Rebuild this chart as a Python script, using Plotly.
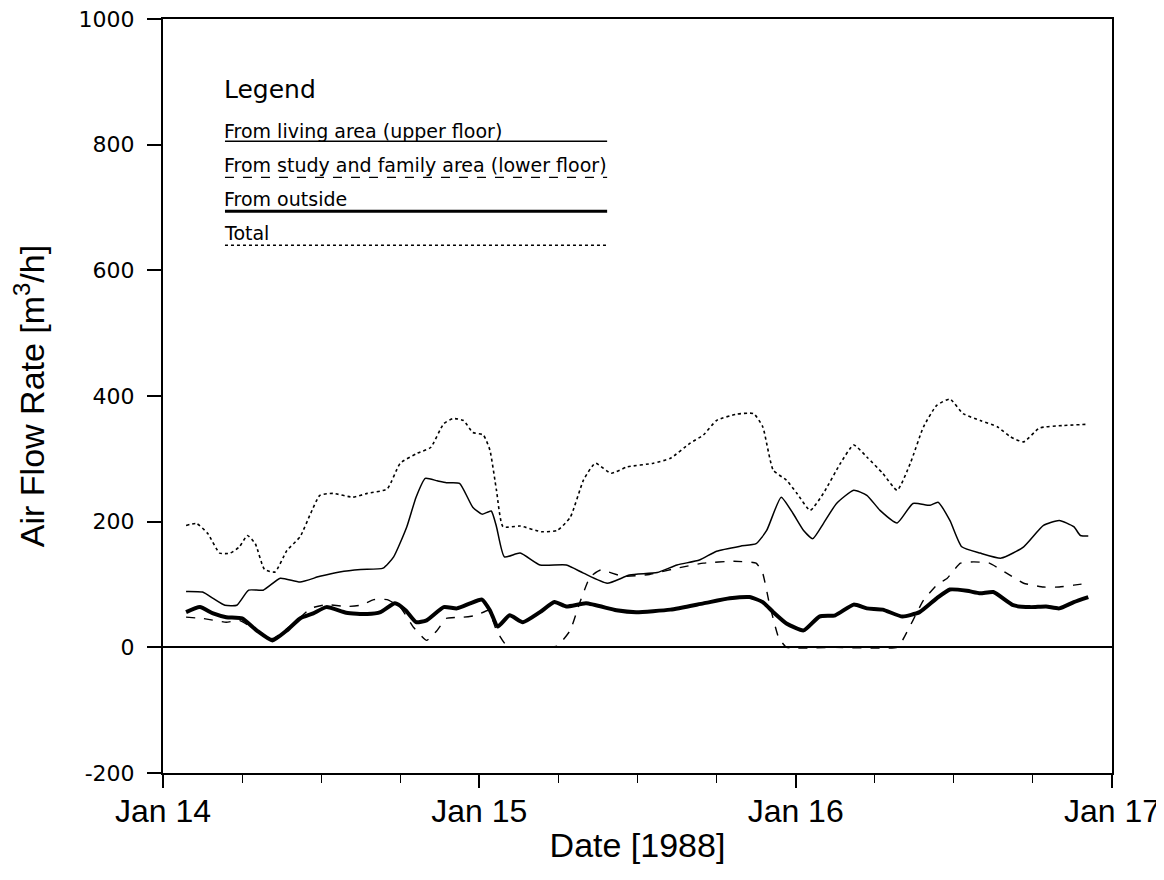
import plotly.graph_objects as go

# ---- data (hours since Jan 14, 1988 00:00) ----
total_h = [1.75,2.55,3.4,4.3,5.1,5.8,6.4,7,7.7,8.5,9.4,10.4,11.2,11.9,12.9,14.4,15.5,17,18,19.3,20.3,21.3,22,22.8,23.5,24.3,24.8,25.3,25.8,27.1,28.7,29.9,30.9,31.9,32.8,34,35.2,37.2,38.5,40,41,42,43.5,44.8,45.5,46.3,47.3,48.1,49.1,50.1,51.4,52.4,53.4,54.6,55.7,56.7,57.7,58.7,59.7,60.7,62,63.3,64.3,65.3,66.5,68.3,70.2]
total_v = [194,197,181,150,150,160,178,165,124,120,154,176,213,242,245,239,245,252,293,309,318,356,364,361,342,338,314,250,192,193,184,186,207,266,293,277,287,293,301,325,338,361,371,372,351,282,266,245,218,245,293,322,303,277,250,293,351,385,395,372,361,351,335,327,349,353,355]

living_h = [1.75,3,3.8,4.7,5.6,6.5,7.6,8.9,10.4,11.9,13.4,15,16.7,17.5,18.5,19.2,19.9,20.8,21.5,22.5,23.5,24.2,24.9,25.3,25.9,27.1,28.6,30.6,31.9,33.7,35.4,37.5,39,40.7,42,43.8,45,45.8,46.9,47.8,48.6,49.3,50.1,51.1,52.4,53.4,54.4,55.7,56.9,58.2,58.8,59.7,60.6,62,63.6,65.3,66.8,68,69.1,69.6,70.2]
living_v = [89,88,78,67,67,91,91,110,104,113,120,124,126,144,192,239,269,265,262,261,223,212,217,192,144,150,131,131,118,102,115,119,131,139,153,161,165,186,239,213,186,173,197,229,250,242,218,198,229,226,231,202,160,150,142,160,194,202,192,178,177]

outside_h = [1.75,2.8,3.8,4.8,6,7.1,8.3,9.4,10.4,11.4,12.4,13.9,15.5,16.5,17.6,18.4,19.2,20,21.3,22.3,23.3,24.2,24.8,25.4,26.3,27.3,28.6,29.7,30.6,32.1,34.4,35.9,38.5,41,43,44.5,45.5,46.3,47.3,48.6,49.8,51,52.4,53.4,54.6,56.1,57.4,58.7,59.7,61,62,63,64.5,65.8,67,68,69.1,70.2]
outside_v = [56,64,54,48,46,27,11,27,46,54,64,55,53,56,70,59,40,43,64,62,70,76,59,33,51,40,56,72,65,70,59,56,60,70,78,80,72,56,38,27,49,51,68,62,60,49,56,78,92,90,86,88,67,64,65,62,72,80]

study_h = [1.75,3,4.8,5.8,7.1,8.3,9.9,11.2,12.4,13.9,15,16,17,18,19,20,20.8,21.5,22.8,23.8,24.7,25.3,26.1,27.8,29.9,30.9,31.6,32.4,33.2,34.9,36.9,39,41,43.3,45,45.5,46,46.7,47.3,51,55.7,56.1,56.9,57.7,58.7,59.5,60.5,61.5,62.7,64,65.3,66.8,68,69.1,70.2]
study_v = [48,46,40,43,27,14,38,62,68,65,67,76,76,64,32,11,27,46,48,51,59,27,2,0,2,27,70,112,123,113,116,126,134,137,134,118,70,16,0,0,0,11,43,75,99,110,134,136,134,118,102,96,96,99,102]

day_ticks = [0, 24, 48, 72]
day_labels = ["Jan 14", "Jan 15", "Jan 16", "Jan 17"]
y_ticks = [-200, 0, 200, 400, 600, 800, 1000]
y_labels = ["-200", "0", "200", "400", "600", "800", "1000"]

legend_names = ["From living area (upper floor)",
                "From study and family area (lower floor)",
                "From outside",
                "Total"]

WIDE = "DejaVu Sans"
SANS = "Liberation Sans"

fig = go.Figure()
fig.add_trace(go.Scatter(x=total_h, y=total_v, mode="lines", name=legend_names[3],
                         line=dict(color="black", width=1.6, dash="dot", shape="spline", smoothing=0.5)))
fig.add_trace(go.Scatter(x=living_h, y=living_v, mode="lines", name=legend_names[0],
                         line=dict(color="black", width=1.5, shape="spline", smoothing=0.5)))
fig.add_trace(go.Scatter(x=study_h, y=study_v, mode="lines", name=legend_names[1],
                         line=dict(color="black", width=1.4, dash="dash", shape="spline", smoothing=0.4)))
fig.add_trace(go.Scatter(x=outside_h, y=outside_v, mode="lines", name=legend_names[2],
                         line=dict(color="black", width=4, shape="spline", smoothing=0.5)))

# custom legend (text above sample line)
leg_text_y = [0.852, 0.806, 0.761, 0.716]
leg_line_y = [0.838, 0.790, 0.745, 0.700]
leg_styles = [dict(width=1.5, dash="solid"), dict(width=1.4, dash="dash"),
              dict(width=3, dash="solid"), dict(width=1.4, dash="dot")]
x0, x1 = 0.0653, 0.468
fig.add_annotation(xref="paper", yref="paper", x=0.062, y=0.906, text="Legend",
                   showarrow=False, xanchor="left", yanchor="middle",
                   font=dict(family=WIDE, size=25, color="black"))
for i in range(4):
    fig.add_annotation(xref="paper", yref="paper", x=0.062, y=leg_text_y[i], text=legend_names[i],
                       showarrow=False, xanchor="left", yanchor="middle",
                       font=dict(family=WIDE, size=19, color="black"))
    fig.add_shape(type="line", xref="paper", yref="paper", x0=x0, x1=x1,
                  y0=leg_line_y[i], y1=leg_line_y[i],
                  line=dict(color="black", width=leg_styles[i]["width"], dash=leg_styles[i]["dash"]))

fig.update_layout(
    width=1156, height=856,
    margin=dict(l=155, r=52, t=11, b=91, autoexpand=False),
    paper_bgcolor="white", plot_bgcolor="white",
    showlegend=False,
    font=dict(family=WIDE, color="black"),
)
fig.update_xaxes(
    range=[0, 72], tickvals=day_ticks, ticktext=day_labels,
    ticks="outside", ticklen=13, tickwidth=1.5, tickcolor="black",
    minor=dict(dtick=6, tick0=0, ticks="outside", ticklen=8, tickwidth=1, tickcolor="black"),
    showline=True, linecolor="black", linewidth=2, mirror=True,
    showgrid=False, zeroline=False, automargin=False,
    ticklabeloverflow="allow",
    tickfont=dict(family=SANS, size=32, color="black"),
    ticklabelstandoff=-4,
    title=dict(text="Date [1988]", font=dict(family=SANS, size=34, color="black"), standoff=6),
)
fig.update_yaxes(
    range=[-200, 1000], tickvals=y_ticks, ticktext=y_labels,
    ticks="outside", ticklen=14, tickwidth=1.5, tickcolor="black",
    showline=True, linecolor="black", linewidth=2, mirror=True,
    showgrid=False, zeroline=True, zerolinecolor="black", zerolinewidth=1.5,
    automargin=False,
    ticklabeloverflow="allow",
    tickfont=dict(family=WIDE, size=22, color="black"),
    ticklabelstandoff=8,
    title=dict(text="Air Flow Rate [m<sup>3</sup>/h]", font=dict(family=SANS, size=34, color="black"), standoff=32),
)

fig.write_html("out.html")
